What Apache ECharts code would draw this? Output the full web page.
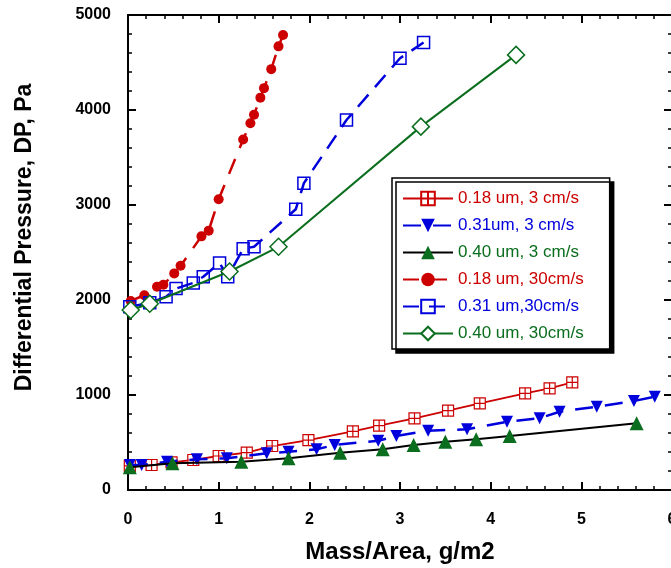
<!DOCTYPE html>
<html>
<head>
<meta charset="utf-8">
<script src="https://cdn.jsdelivr.net/npm/echarts@6/dist/echarts.min.js"></script>
<style>html,body{margin:0;padding:0;background:#fff;}#c{width:671px;height:568px;}</style>
</head>
<body>
<div id="c"></div>
<script>
const seriesNames = ['0.18 um, 3 cm/s', '0.31um, 3 cm/s', '0.40 um, 3 cm/s', '0.18 um, 30cm/s', '0.31 um,30cm/s', '0.40 um, 30cm/s'];
const xTicks = [0, 1, 2, 3, 4, 5, 6];
const yTicks = [0, 1000, 2000, 3000, 4000, 5000];

const s018_3 = [[0.02,253],[0.26,263],[0.48,290],[0.72,316],[1.00,358],[1.31,393],[1.59,463],[1.99,526],[2.48,618],[2.77,677],[3.16,755],[3.53,835],[3.88,912],[4.38,1018],[4.65,1070],[4.90,1133]];
const s031_3 = [[0.02,263],[0.15,263],[0.43,298],[0.76,323],[1.09,333],[1.53,386],[1.77,403],[2.08,428],[2.28,474],[2.76,519],[2.96,568],[3.31,624],[3.74,639],[4.18,719],[4.54,755],[4.76,824],[5.17,877],[5.58,937],[5.81,982]];
const s040_3 = [[0.02,239],[0.49,281],[1.25,298],[1.77,334],[2.34,393],[2.81,428],[3.15,474],[3.50,509],[3.84,533],[4.21,568],[5.61,702]];
const s018_30 = [[0.03,1990],[0.18,2050],[0.32,2140],[0.39,2160],[0.51,2280],[0.58,2360],[0.81,2670],[0.89,2730],[1.00,3060],[1.27,3690],[1.35,3860],[1.39,3950],[1.46,4130],[1.50,4230],[1.58,4430],[1.66,4670],[1.71,4790]];
const s031_30 = [[0.02,1930],[0.24,1970],[0.42,2035],[0.53,2120],[0.72,2180],[0.83,2245],[1.01,2390],[1.10,2245],[1.27,2540],[1.39,2560],[1.85,2955],[1.94,3230],[2.41,3895],[3.00,4545],[3.26,4710]];
const s040_30 = [[0.03,1895],[0.24,1960],[1.12,2300],[1.66,2560],[3.23,3825],[4.28,4580]];

const RED = '#cc0000', BLUE = '#0000dd', GREEN = '#0a6e1e', BLACK = '#000';
const textColors = [RED, BLUE, GREEN, RED, BLUE, GREEN];
const FONT = 'Liberation Sans, Arial, sans-serif';

const chart = echarts.init(document.getElementById('c'));

function axisBase() {
  return {
    min: 0,
    axisLine: {show: true, onZero: false, lineStyle: {color: BLACK, width: 2}},
    axisTick: {show: true, inside: true, length: 8, lineStyle: {color: BLACK, width: 2}},
    minorTick: {show: true, splitNumber: 5, length: 4, lineStyle: {color: BLACK, width: 1.5}},
    splitLine: {show: false}
  };
}

chart.setOption({
  animation: false,
  backgroundColor: '#fff',
  grid: {left: 128, top: 15, right: -1, bottom: 78, containLabel: false, outerBoundsMode: 'none'},
  legend: {
    orient: 'vertical',
    left: 392, top: 178,
    padding: [12, 26, 7, 10],
    itemWidth: 50, itemHeight: 17, itemGap: 10,
    backgroundColor: '#fff',
    borderColor: BLACK, borderWidth: 1.5, borderRadius: 0,
    shadowColor: BLACK, shadowBlur: 0, shadowOffsetX: 4, shadowOffsetY: 4,
    textStyle: {fontFamily: FONT, fontSize: 17},
    data: seriesNames.map((n, i) => ({name: n, textStyle: {color: textColors[i]}}))
  },
  xAxis: [
    Object.assign(axisBase(), {
      type: 'value', position: 'bottom', max: 6, interval: 1,
      axisLabel: {show: true, margin: 22, fontFamily: FONT, fontSize: 16, fontWeight: 'bold', color: BLACK,
        formatter: v => xTicks.indexOf(v) >= 0 ? String(v) : ''},
      name: 'Mass/Area, g/m2', nameLocation: 'middle', nameGap: 50,
      nameTextStyle: {fontFamily: FONT, fontSize: 24, fontWeight: 'bold', color: BLACK}
    }),
    Object.assign(axisBase(), {
      type: 'value', position: 'top', max: 6, interval: 1, axisLabel: {show: false}
    })
  ],
  yAxis: [
    Object.assign(axisBase(), {
      type: 'value', position: 'left', max: 5000, interval: 1000,
      axisLabel: {show: true, margin: 17, fontFamily: FONT, fontSize: 16, fontWeight: 'bold', color: BLACK,
        formatter: v => yTicks.indexOf(v) >= 0 ? String(v) : ''},
      name: 'Differential Pressure, DP, Pa', nameLocation: 'middle', nameGap: 92,
      nameTextStyle: {fontFamily: FONT, fontSize: 23, fontWeight: 'bold', color: BLACK, padding: [0, 0, 0, 30]}
    }),
    Object.assign(axisBase(), {
      type: 'value', position: 'right', max: 5000, interval: 1000, axisLabel: {show: false}
    })
  ],
  series: [
    {name: seriesNames[0], type: 'line', data: s018_3,
      symbol: 'path://M0,0H10V10H0Z M5,0V10 M0,5H10', symbolSize: 11,
      itemStyle: {color: '#fff', borderColor: RED, borderWidth: 1.2},
      lineStyle: {color: RED, width: 1.8}, z: 3},
    {name: seriesNames[1], type: 'line', data: s031_3,
      symbol: 'triangle', symbolRotate: 180, symbolSize: 12,
      itemStyle: {color: BLUE},
      lineStyle: {color: BLUE, width: 2.5, type: [18, 12]}, z: 4},
    {name: seriesNames[2], type: 'line', data: s040_3,
      symbol: 'triangle', symbolSize: 14,
      itemStyle: {color: GREEN},
      lineStyle: {color: BLACK, width: 2}, z: 5},
    {name: seriesNames[3], type: 'line', data: s018_30,
      symbol: 'circle', symbolSize: 10,
      itemStyle: {color: RED},
      lineStyle: {color: RED, width: 2.5, type: [16, 12]}, z: 3},
    {name: seriesNames[4], type: 'line', data: s031_30,
      symbol: 'rect', symbolSize: 12,
      itemStyle: {color: 'rgba(255,255,255,0)', borderColor: BLUE, borderWidth: 1.5},
      lineStyle: {color: BLUE, width: 2.5, type: [16, 10]}, z: 4},
    {name: seriesNames[5], type: 'line', data: s040_30,
      symbol: 'diamond', symbolSize: 17,
      itemStyle: {color: '#fff', borderColor: GREEN, borderWidth: 1.5},
      lineStyle: {color: GREEN, width: 2}, z: 5}
  ]
});
</script>
</body>
</html>
